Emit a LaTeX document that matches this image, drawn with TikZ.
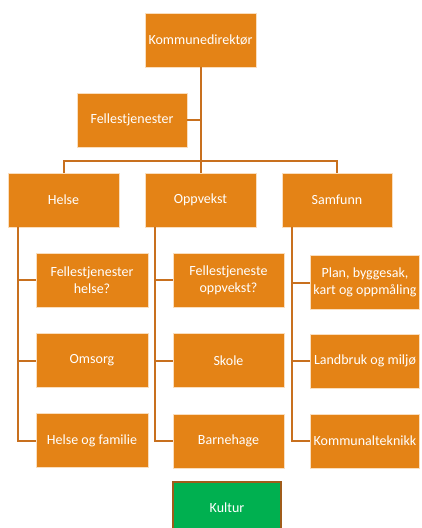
\documentclass[tikz,border=0pt]{standalone}
\usepackage{fontspec}
\setmainfont{Carlito}
\definecolor{boxfill}{RGB}{228,131,22}
\definecolor{linecol}{RGB}{200,112,30}
\definecolor{boxedge}{RGB}{250,222,190}
\definecolor{kulturfill}{RGB}{0,176,80}
\definecolor{kulturedge}{RGB}{160,92,26}
\tikzset{
  orgbox/.style={draw=boxedge, line width=0.8pt, fill=boxfill, text=white,
    minimum width=111pt, minimum height=54pt, align=center, inner sep=1pt,
    font=\fontsize{14}{17}\selectfont},
  conn/.style={draw=linecol, line width=2pt},
}
\begin{document}
\begin{tikzpicture}[x=1pt,y=-1pt]
\clip (0,0) rectangle (422,528);
\fill[white] (0,0) rectangle (422,528);
% boxes
\node[orgbox] (kd) at (200.5,40) {Kommunedirektør};
\node[orgbox, minimum width=110pt] (fj) at (132,120) {Fellestjenester};
\node[orgbox] (helse) at (63.5,200) {Helse};
\node[orgbox] (opp) at (200.5,200) {Oppvekst};
\node[orgbox, minimum width=110pt] (sam) at (337,200) {Samfunn};
\node[orgbox, minimum width=112pt] (h1) at (92,280) {Fellestjenester\\helse?};
\node[orgbox, minimum width=112pt] (h2) at (92,360.5) {Omsorg};
\node[orgbox, minimum width=112pt] (h3) at (92,440.5) {Helse og familie};
\node[orgbox] (o1) at (228.5,280) {Fellestjeneste\\oppvekst?};
\node[orgbox] (o2) at (228.5,360.5) {Skole};
\node[orgbox] (o3) at (228.5,441) {Barnehage};
\node[orgbox, minimum width=109pt] (s1) at (365,282.5) {Plan, byggesak,\\kart og oppmåling};
\node[orgbox, minimum width=109pt] (s2) at (365,361) {Landbruk og miljø};
\node[orgbox, minimum width=109pt] (s3) at (365,441) {Kommunalteknikk};
\node[orgbox, draw=kulturedge, line width=2pt, fill=kulturfill, minimum width=108pt, minimum height=52pt] (kultur) at (227,508) {Kultur};
% connectors
\draw[conn] (kd.south) -- (opp.north);
\draw[conn] (fj.east) -- (fj.east -| kd.south);
\draw[conn] (helse.north) -- ++(0,-12) -| (sam.north);
\path ([xshift=10pt]helse.south west) coordinate (hv);
\path ([xshift=10pt]opp.south west) coordinate (ov);
\path ([xshift=10pt]sam.south west) coordinate (sv);
\draw[conn] (hv) |- (h3.west);
\draw[conn] (h1.west) -- (h1.west -| hv);
\draw[conn] (h2.west) -- (h2.west -| hv);
\draw[conn] (ov) |- (o3.west);
\draw[conn] (o1.west) -- (o1.west -| ov);
\draw[conn] (o2.west) -- (o2.west -| ov);
\draw[conn] (sv) |- (s3.west);
\draw[conn] (s1.west) -- (s1.west -| sv);
\draw[conn] (s2.west) -- (s2.west -| sv);
\end{tikzpicture}
\end{document}
